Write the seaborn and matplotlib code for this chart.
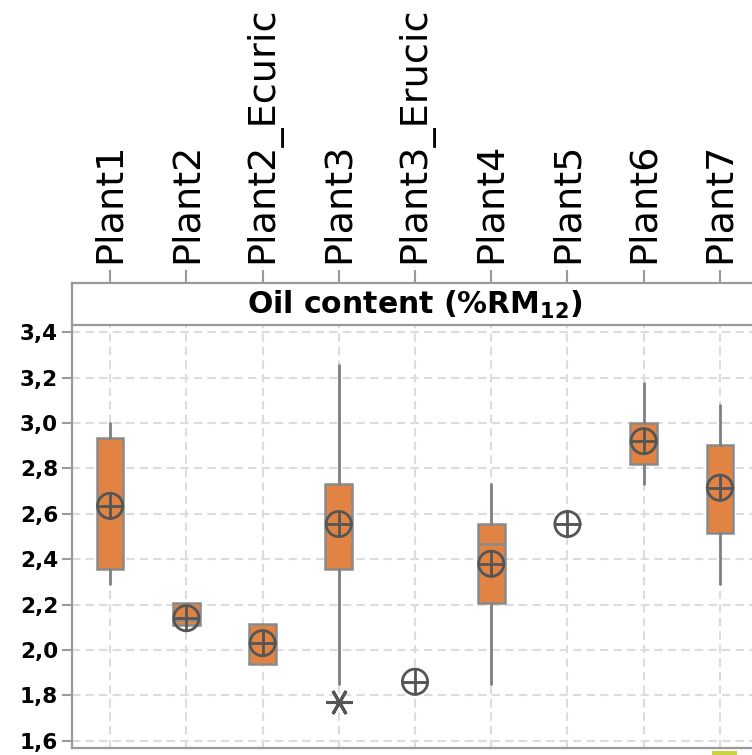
import numpy as np
import matplotlib
matplotlib.use("Agg")
import matplotlib.pyplot as plt
from matplotlib.patches import Rectangle
from matplotlib.ticker import FuncFormatter
import seaborn as sns

# Oil content per plant: box-plot summary values (%RM12)
categories = ["Plant1", "Plant2", "Plant2_Ecuric", "Plant3", "Plant3_Erucic",
              "Plant4", "Plant5", "Plant6", "Plant7"]
whisker_low = [2.29, 2.11, 1.94, 1.85, 1.86, 1.85, 2.555, 2.73, 2.29]
q1 = [2.355, 2.11, 1.94, 2.355, 1.86, 2.205, 2.555, 2.82, 2.515]
median = [2.635, 2.13, 2.03, 2.555, 1.86, 2.465, 2.555, 2.92, 2.715]
q3 = [2.935, 2.205, 2.115, 2.73, 1.86, 2.555, 2.555, 3.00, 2.905]
whisker_high = [3.00, 2.205, 2.115, 3.255, 1.86, 2.73, 2.555, 3.175, 3.08]
means = [2.635, 2.14, 2.03, 2.555, 1.86, 2.38, 2.555, 2.92, 2.715]
outlier_plant = ["Plant3"]
outlier_value = [1.77]
y_ticks = [1.6, 1.8, 2.0, 2.2, 2.4, 2.6, 2.8, 3.0, 3.2, 3.4]

sns.set_style("white")
plt.rcParams["font.family"] = ["DejaVu Sans"]
plt.rcParams["text.color"] = "black"
plt.rcParams["xtick.labelcolor"] = "black"
plt.rcParams["ytick.labelcolor"] = "black"

W, H = 752, 755
fig = plt.figure(figsize=(W / 100, H / 100), dpi=100)

def px_box(left, top, right, bottom):
    return [left / W, 1 - bottom / H, (right - left) / W, (bottom - top) / H]

ax = fig.add_axes(px_box(72, 325, 758, 748))
hdr = fig.add_axes(px_box(72, 283, 758, 325), sharex=ax)

frame_grey = "#9a9a9a"
box_fill = "#e18443"
box_edge = "#8a8a8a"
mark_grey = "#555555"

pos = np.arange(len(categories))
stats = []
for i, name in enumerate(categories):
    stats.append(dict(
        label=name,
        whislo=whisker_low[i], q1=q1[i], med=median[i], q3=q3[i],
        whishi=whisker_high[i],
        fliers=[v for p, v in zip(outlier_plant, outlier_value) if p == name],
    ))

ax.set_axisbelow(True)
ax.grid(True, color="#dcdcdc", linestyle=(0, (4, 2.5)), linewidth=1.5)

ax.bxp(stats, positions=pos, widths=0.35, patch_artist=True, showcaps=False,
       showfliers=True,
       boxprops=dict(facecolor=box_fill, edgecolor=box_edge, linewidth=1.8),
       whiskerprops=dict(color="#7f7f7f", linewidth=2.0),
       medianprops=dict(color=box_edge, linewidth=1.8),
       flierprops=dict(marker=(6, 2, 90), markersize=19, markeredgewidth=2.2,
                       markeredgecolor=mark_grey, markerfacecolor=mark_grey,
                       linestyle="none"))

# mean markers: open circle with a cross
sns.scatterplot(x=pos, y=means, ax=ax, marker="o", s=330, facecolor="none",
                edgecolor=mark_grey, linewidth=2, zorder=5, legend=False)
sns.scatterplot(x=pos, y=means, ax=ax, marker="+", s=330, color=mark_grey,
                linewidth=2, zorder=6, legend=False)

ax.set_xlim(-0.5, len(categories) - 0.5)
ax.set_ylim(1.568, 3.432)
ax.set_yticks(y_ticks)
ax.yaxis.set_major_formatter(FuncFormatter(lambda v, _: f"{v:.1f}".replace(".", ",")))
ax.tick_params(axis="y", left=True, length=7, width=1.5, color=frame_grey, pad=3,
               labelsize=15.5, labelcolor="black")
for t in ax.get_yticklabels():
    t.set_fontweight("bold")
ax.tick_params(axis="x", bottom=False, labelbottom=False)
ax.set_xlabel("")
ax.set_ylabel("")
for side in ["left", "bottom", "right"]:
    ax.spines[side].set_color(frame_grey)
    ax.spines[side].set_linewidth(1.6)
ax.spines["top"].set_visible(False)

# header strip with plant names on top
hdr.set_ylim(0, 1)
hdr.set_yticks([])
hdr.xaxis.tick_top()
hdr.set_xticks(pos)
hdr.set_xticklabels(categories, rotation=90, fontsize=27.5, color="black")
hdr.tick_params(axis="x", top=True, bottom=False, labeltop=True, labelbottom=False,
                length=9.5, width=1.5, color=frame_grey, pad=5)
for s in hdr.spines.values():
    s.set_color(frame_grey)
    s.set_linewidth(1.6)
hdr.text(0.5, 0.47, r"Oil content (%RM$_\mathbf{12}$)", transform=hdr.transAxes,
         ha="center", va="center", fontsize=21.5, fontweight="bold", color="black")

fig.patches.append(Rectangle((712 / W, 0), 25 / W, 4 / H, transform=fig.transFigure,
                             facecolor="#c8d43a", edgecolor="none"))

fig.savefig("out.png", dpi=100)
